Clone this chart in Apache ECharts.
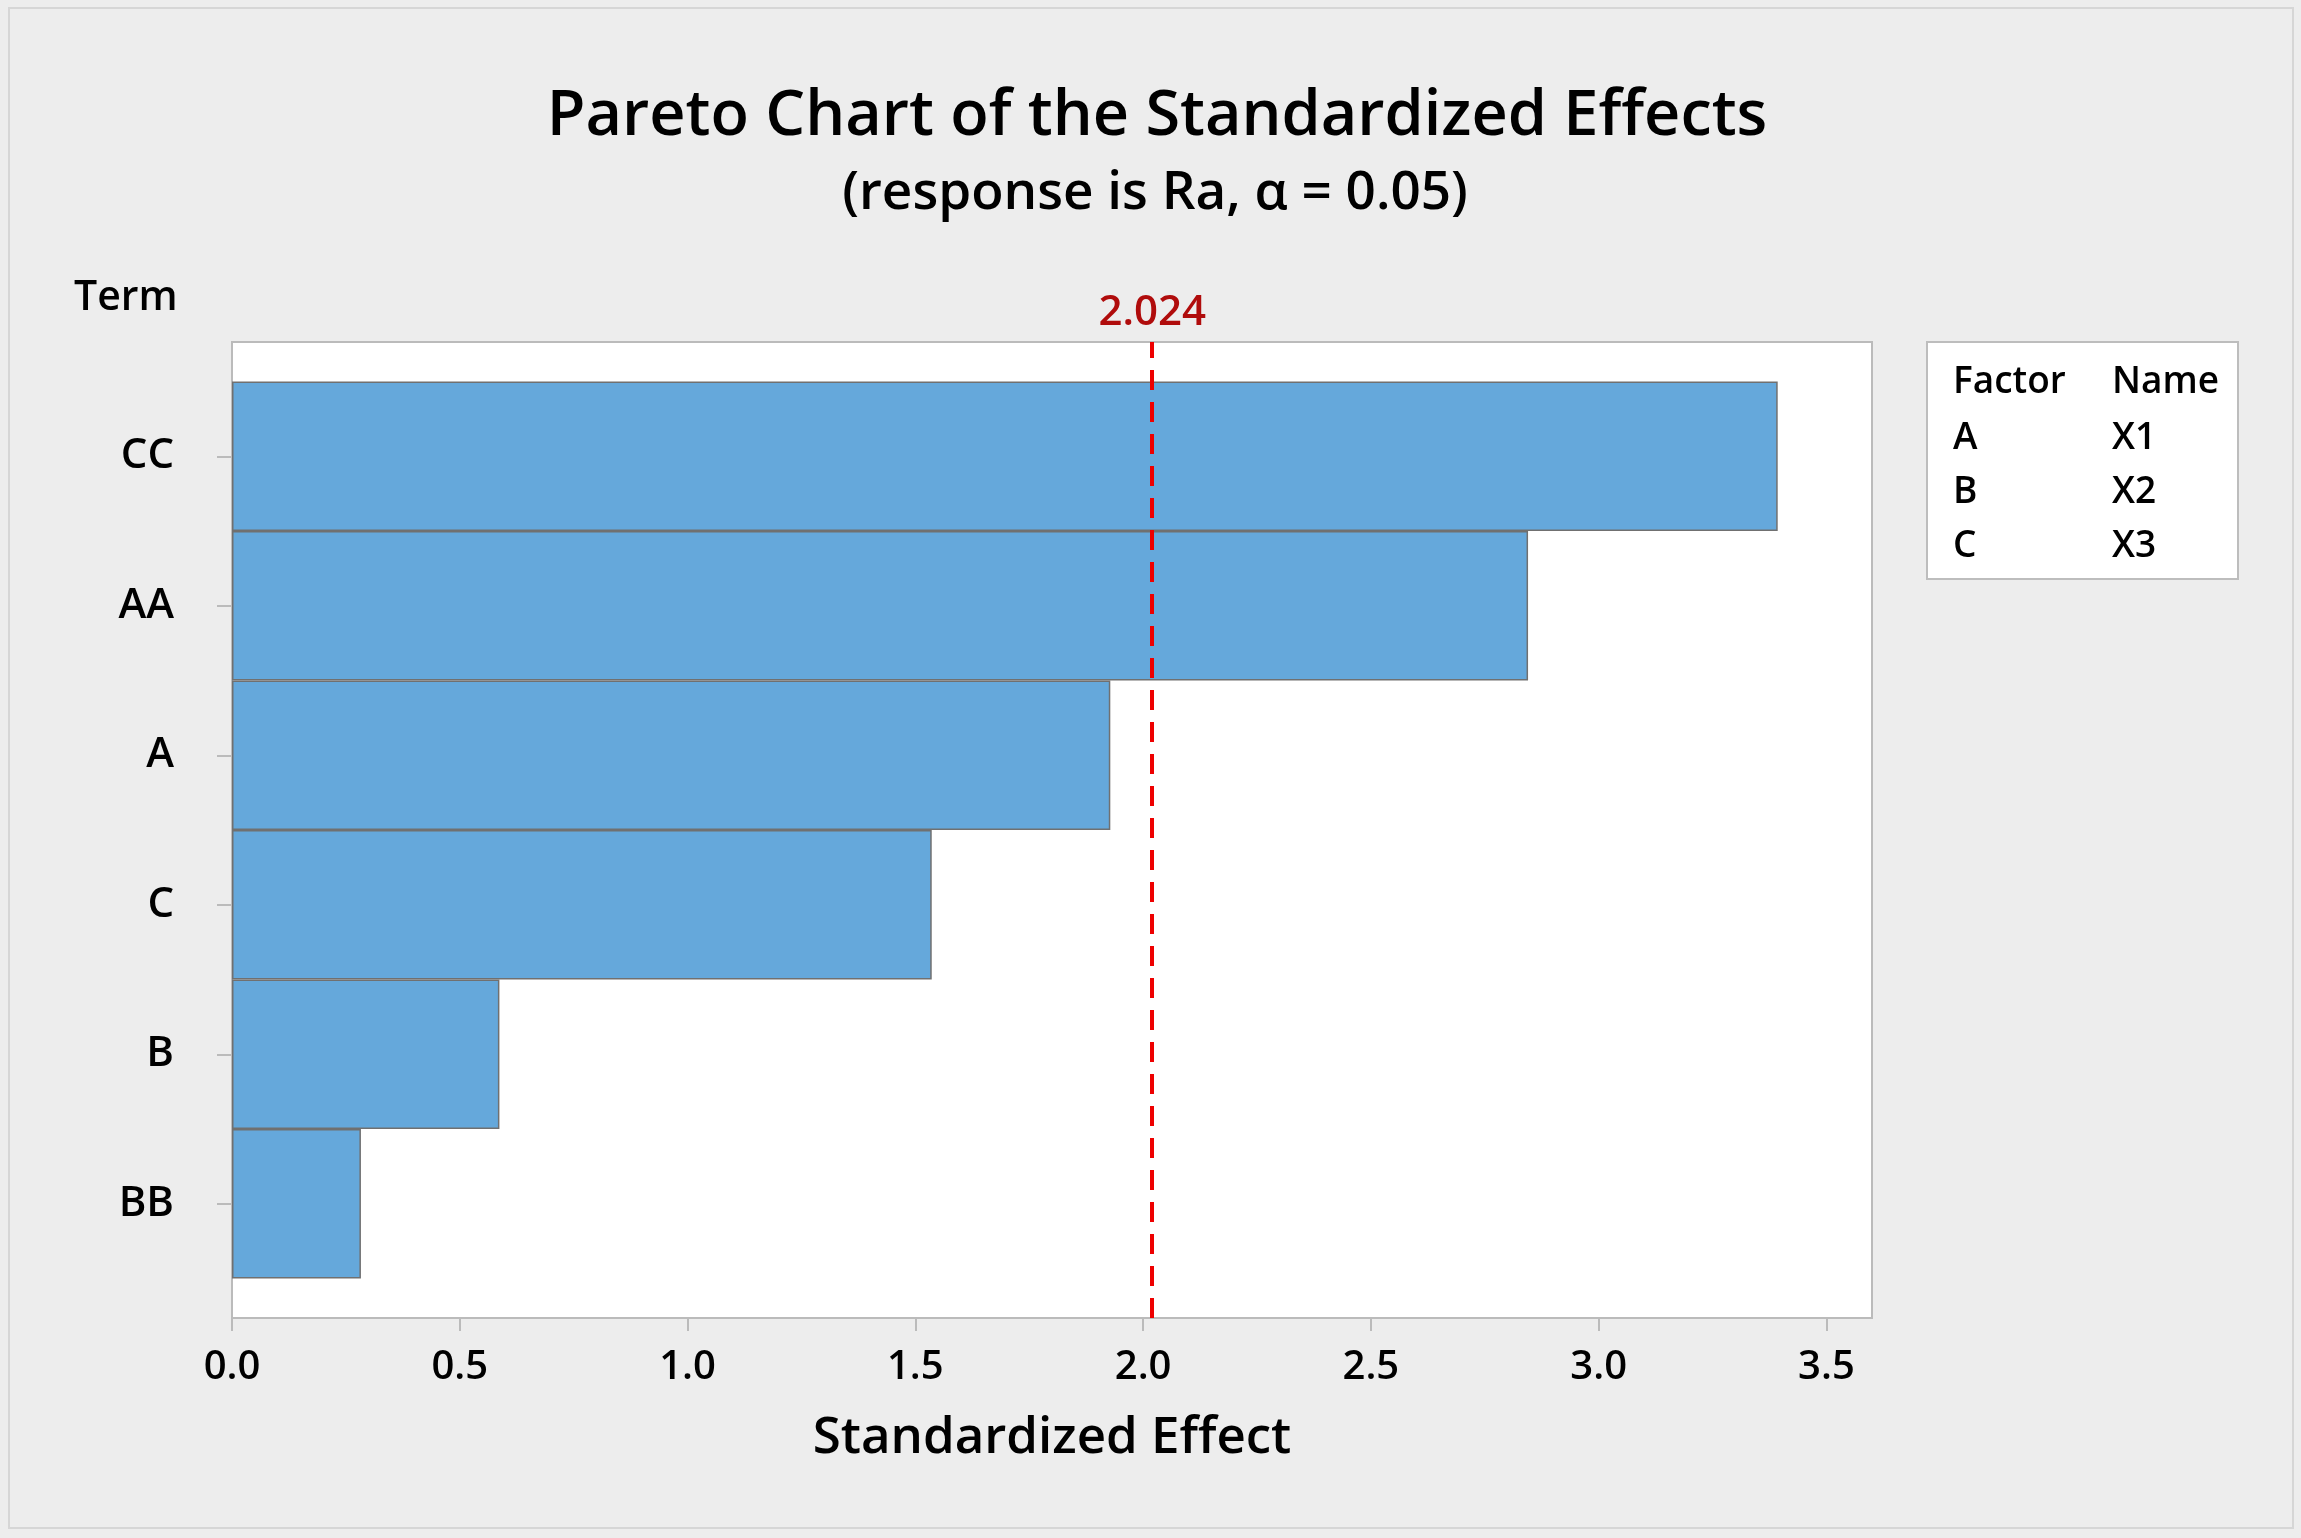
<!DOCTYPE html>
<html>
<head>
<meta charset="utf-8">
<script src="https://cdn.jsdelivr.net/npm/echarts@6/dist/echarts.min.js"></script>
<style>
html,body{margin:0;padding:0;background:#ededed;}
#chart{width:2301px;height:1538px;}
</style>
</head>
<body>
<div id="chart"></div>
<script>
var terms = ['CC', 'AA', 'A', 'C', 'B', 'BB'];
var effects = [3.393, 2.845, 1.928, 1.536, 0.587, 0.283];
var criticalValue = 2.024;
var xMin = 0, xMax = 3.6, xStep = 0.5;
var factorCodes = ['A', 'B', 'C'];
var factorNames = ['X1', 'X2', 'X3'];
var titleText = 'Pareto Chart of the Standardized Effects';
var subtitleText = '(response is Ra, \u03b1 = 0.05)';
var xAxisTitle = 'Standardized Effect';
var yAxisTitle = 'Term';

var FONT = '"Open Sans", "Noto Sans", sans-serif';
var W = 600;
var chart = echarts.init(document.getElementById('chart'));

var legendGraphics = [
  {type:'rect', shape:{x:9, y:8, width:2284, height:1520}, style:{fill:'none', stroke:'#d6d6d6', lineWidth:2}, silent:true, z:-10},
  {type:'rect', shape:{x:1927, y:342, width:311, height:237}, style:{fill:'#ffffff', stroke:'#bdbdbd', lineWidth:2}},
  {type:'text', x:1953, y:382, style:{text:'Factor', font:W + ' 37px ' + FONT, fill:'#000', verticalAlign:'middle'}},
  {type:'text', x:2112, y:382, style:{text:'Name', font:W + ' 37px ' + FONT, fill:'#000', verticalAlign:'middle'}},
  {type:'text', x:74, y:298, style:{text:yAxisTitle, font:W + ' 41px ' + FONT, fill:'#000', verticalAlign:'middle'}}
];
factorCodes.forEach(function (c, i) {
  legendGraphics.push({type:'text', x:1953, y:438 + i * 54, style:{text:c, font:W + ' 37px ' + FONT, fill:'#000', verticalAlign:'middle'}});
  legendGraphics.push({type:'text', x:2112, y:438 + i * 54, style:{text:factorNames[i], font:W + ' 37px ' + FONT, fill:'#000', verticalAlign:'middle'}});
});

var option = {
  backgroundColor: '#ededed',
  animation: false,
  title: [
    {text: titleText, left: 1152, top: 81, textAlign: 'center',
     textStyle: {fontFamily: FONT, fontSize: 63, fontWeight: W, color: '#000'}},
    {text: subtitleText, left: 1150, top: 162, textAlign: 'center',
     textStyle: {fontFamily: FONT, fontSize: 53, fontWeight: W, color: '#000'}}
  ],
  grid: [
    {left: 232, right: 429, top: 342, bottom: 220, show: true, backgroundColor: '#ffffff', borderColor: '#bbbbbb', borderWidth: 2, containLabel: false},
    {left: 232, right: 429, top: 381.5, bottom: 259.5, containLabel: false}
  ],
  xAxis: [
    {type: 'value', gridIndex: 0, min: xMin, max: xMax, interval: xStep,
     axisLine: {show: true, lineStyle: {color: '#bbbbbb', width: 2}},
     axisTick: {show: true, length: 13, lineStyle: {color: '#bbbbbb', width: 2}},
     splitLine: {show: false},
     axisLabel: {show: true, margin: 30, fontFamily: FONT, fontSize: 40, fontWeight: W, color: '#000', showMaxLabel: false,
       formatter: function (v) { return v.toFixed(1); }},
     name: xAxisTitle, nameLocation: 'middle', nameGap: 95,
     nameTextStyle: {fontFamily: FONT, fontSize: 51, fontWeight: W, color: '#000'}},
    {type: 'value', gridIndex: 1, min: xMin, max: xMax, show: false}
  ],
  yAxis: [
    {type: 'value', gridIndex: 0, min: 0, max: 1, show: false},
    {type: 'category', gridIndex: 1, data: terms, inverse: true,
     axisLine: {show: false},
     axisTick: {show: true, alignWithLabel: true, length: 15, lineStyle: {color: '#bbbbbb', width: 2}},
     splitLine: {show: false},
     axisLabel: {margin: 58, fontFamily: FONT, fontSize: 42, fontWeight: W, color: '#000'}}
  ],
  series: [
    {type: 'bar', xAxisIndex: 1, yAxisIndex: 1, data: effects, barWidth: '100%', barCategoryGap: 0,
     itemStyle: {color: '#65a8db', borderColor: '#707070', borderWidth: 1.5}},
    {type: 'line', xAxisIndex: 0, yAxisIndex: 0, data: [], silent: true,
     markLine: {silent: true, symbol: 'none', animation: false,
       data: [{xAxis: criticalValue}],
       lineStyle: {color: '#ee0000', width: 4, type: [20, 12]},
       label: {show: true, position: 'end', formatter: String(criticalValue), distance: 8,
         fontFamily: FONT, fontSize: 42, fontWeight: W, color: '#b00c0c'},
       emphasis: {disabled: true}}}
  ],
  graphic: legendGraphics
};
chart.setOption(option);
</script>
</body>
</html>
